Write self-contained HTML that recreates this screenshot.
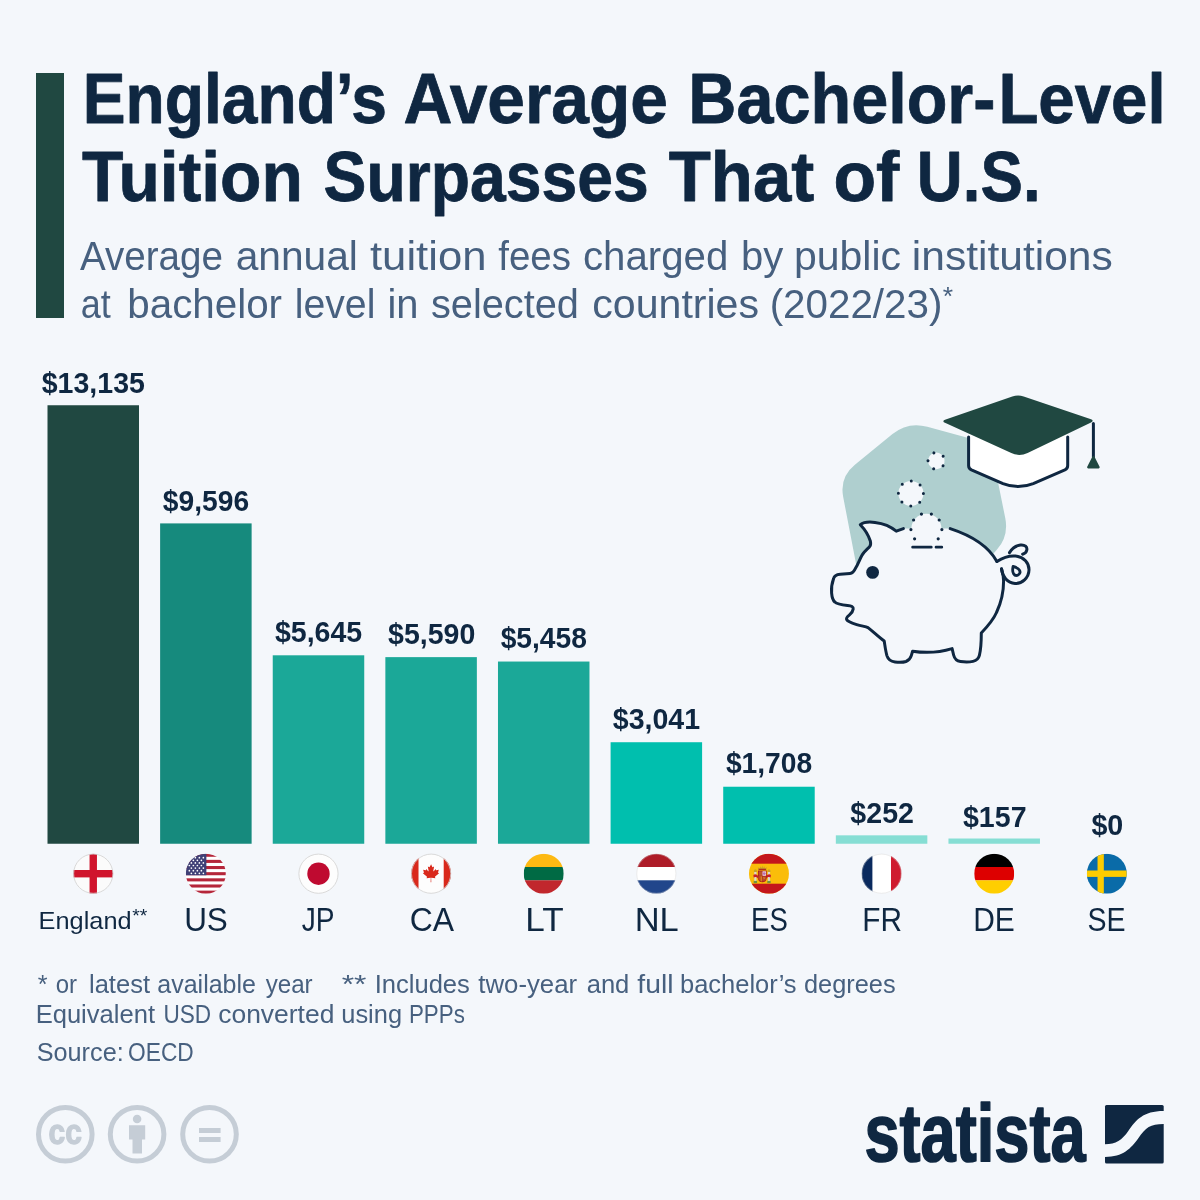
<!DOCTYPE html>
<html lang="en">
<head>
<meta charset="utf-8">
<title>England’s Average Bachelor-Level Tuition Surpasses That of U.S.</title>
<style>
html,body{margin:0;padding:0;background:#f4f7fb;}
body{width:1200px;height:1200px;overflow:hidden;font-family:"Liberation Sans", sans-serif;}
svg{display:block;}
svg text{font-family:"Liberation Sans", sans-serif;}
</style>
</head>
<body>
<svg width="1200" height="1200" viewBox="0 0 1200 1200">
<rect width="1200" height="1200" fill="#f4f7fb"/>
<defs>
<clipPath id="fc"><circle cx="20" cy="20" r="20"/></clipPath>
<g id="flag0"><g clip-path="url(#fc)"><rect width="40" height="40" fill="#fbfbfb"/><rect x="16.3" width="7.4" height="40" fill="#d0142c"/><rect y="16.3" width="40" height="7.4" fill="#d0142c"/></g><circle cx="20" cy="20" r="19.6" fill="none" stroke="#cfcfcf" stroke-width="0.8"/></g>
<g id="flag1"><g clip-path="url(#fc)"><rect width="40" height="40" fill="#ffffff"/>
<g fill="#b5263a"><rect y="0" width="40" height="3.08"/><rect y="6.15" width="40" height="3.08"/><rect y="12.31" width="40" height="3.08"/><rect y="18.46" width="40" height="3.08"/><rect y="24.62" width="40" height="3.08"/><rect y="30.77" width="40" height="3.08"/><rect y="36.92" width="40" height="3.08"/></g>
<rect width="20.5" height="21.54" fill="#3f4076"/>
<g fill="#ffffff"><circle cx="3.5" cy="6.6" r="0.85"/><circle cx="7.5" cy="6.6" r="0.85"/><circle cx="11.5" cy="6.6" r="0.85"/><circle cx="15.5" cy="6.6" r="0.85"/><circle cx="5.5" cy="9.2" r="0.85"/><circle cx="9.5" cy="9.2" r="0.85"/><circle cx="13.5" cy="9.2" r="0.85"/><circle cx="17.5" cy="9.2" r="0.85"/><circle cx="3.5" cy="11.8" r="0.85"/><circle cx="7.5" cy="11.8" r="0.85"/><circle cx="11.5" cy="11.8" r="0.85"/><circle cx="15.5" cy="11.8" r="0.85"/><circle cx="5.5" cy="14.4" r="0.85"/><circle cx="9.5" cy="14.4" r="0.85"/><circle cx="13.5" cy="14.4" r="0.85"/><circle cx="17.5" cy="14.4" r="0.85"/><circle cx="3.5" cy="17.0" r="0.85"/><circle cx="7.5" cy="17.0" r="0.85"/><circle cx="11.5" cy="17.0" r="0.85"/><circle cx="15.5" cy="17.0" r="0.85"/><circle cx="5.5" cy="19.6" r="0.85"/><circle cx="9.5" cy="19.6" r="0.85"/><circle cx="13.5" cy="19.6" r="0.85"/><circle cx="17.5" cy="19.6" r="0.85"/><circle cx="9.5" cy="4.0" r="0.85"/><circle cx="13.5" cy="4.0" r="0.85"/><circle cx="17.5" cy="4.0" r="0.85"/></g>
</g></g>
<g id="flag2"><g clip-path="url(#fc)"><rect width="40" height="40" fill="#fdfdfd"/><circle cx="20" cy="20" r="11.2" fill="#bf0a30"/></g><circle cx="20" cy="20" r="19.6" fill="none" stroke="#cfcfcf" stroke-width="0.8"/></g>
<g id="flag3"><g clip-path="url(#fc)"><rect width="40" height="40" fill="#fdfdfd"/><rect width="7.4" height="40" fill="#d9291c"/><rect x="32.6" width="7.4" height="40" fill="#d9291c"/>
<path fill="#d9291c" transform="translate(20 20) scale(0.86) translate(-20 -22.3)" d="M20 11.2l-1.7 3.2c-.2.35-.55.3-.9.12l-1.2-.63.9 4.9c.2.9-.42.9-.73.5l-2.1-2.4-.35 1.2c-.04.16-.2.33-.46.3l-2.7-.58.7 2.6c.15.57.27.8-.15 .96l-.96.45 4.6 3.8c.18.14.28.4.2.63l-.4 1.33 4.5-.52c.14 0 .36.12.36.28l-.2 4.76h.8l-.13-4.75c0-.16.2-.3.35-.3l4.5.53-.4-1.33c-.07-.23.02-.5.2-.63l4.6-3.8-.96-.45c-.42-.15-.3-.4-.15-.96l.7-2.6-2.7.58c-.26.04-.43-.13-.47-.3l-.35-1.2-2.1 2.4c-.3.4-.92.4-.73-.5l.9-4.9-1.2.63c-.35.2-.7.23-.9-.12z"/>
</g><circle cx="20" cy="20" r="19.6" fill="none" stroke="#cfcfcf" stroke-width="0.8"/></g>
<g id="flag4"><g clip-path="url(#fc)"><rect width="40" height="13.4" fill="#fdb913"/><rect y="13.3" width="40" height="13.4" fill="#006a44"/><rect y="26.6" width="40" height="13.4" fill="#c1272d"/></g></g>
<g id="flag5"><g clip-path="url(#fc)"><rect width="40" height="13.4" fill="#ae1c28"/><rect y="13.3" width="40" height="13.4" fill="#ffffff"/><rect y="26.6" width="40" height="13.4" fill="#21468b"/></g><circle cx="20" cy="20" r="19.6" fill="none" stroke="#cfcfcf" stroke-opacity="0.5" stroke-width="0.8"/></g>
<g id="flag6"><g clip-path="url(#fc)"><rect width="40" height="40" fill="#fabd0a"/><rect width="40" height="10" fill="#c4161c"/><rect y="30" width="40" height="10" fill="#c4161c"/>
<g>
<rect x="5.300" y="18" width="2.200" height="9.600" fill="#dcd8cc"/><rect x="18.900" y="18" width="2.200" height="9.600" fill="#dcd8cc"/>
<path d="M4.800 18.200L5.100 16.400L6.400 15.600L7.700 16.400L8 18.200Z" fill="#c9a227"/><path d="M18.400 18.200L18.700 16.400L20 15.600L21.300 16.400L21.600 18.200Z" fill="#c9a227"/>
<rect x="4.700" y="27.200" width="3.400" height="2.200" fill="#6f9440"/><rect x="18.300" y="27.200" width="3.400" height="2.200" fill="#6f9440"/>
<path d="M4.400 21.300C6 19.900 8.200 20.700 9.300 22.600L8.800 24.800C7.700 23.300 6.200 22.900 4.700 23.900Z" fill="#c8202a"/><path d="M22 21.300C20.400 19.900 18.200 20.700 17.100 22.600L17.600 24.800C18.700 23.300 20.200 22.900 21.700 23.900Z" fill="#c8202a"/>
<path d="M9 16.900h8.700v7.300c0 2.700-1.900 4.300-4.350 4.300s-4.350-1.600-4.350-4.300z" fill="#ad1519"/>
<rect x="9.700" y="17.600" width="3.500" height="4.500" fill="#b9552b"/><rect x="13.500" y="17.600" width="3.500" height="4.500" fill="#eadfe8"/><circle cx="15.250" cy="19.900" r="1.450" fill="#bf6fb0"/>
<path d="M9.700 22.500h3.500v5.200c-2-.1-3.500-1.400-3.500-3.500z" fill="#dd9a22"/><path d="M10.500 22.500v4.200M11.800 22.500v5" stroke="#ad1519" stroke-width=".6" fill="none"/>
<path d="M13.500 22.500h3.500v1.700c0 2.100-1.500 3.400-3.500 3.500z" fill="#b8472b"/><path d="M14.200 23.300l2 2.400M16.200 23.300l-2 2.400" stroke="#d9a62a" stroke-width=".5" fill="none"/>
<path d="M9.300 16.600L8.900 13.300L10.500 14.700L11.500 12.500L12.500 14.500L13.350 11.900L14.200 14.500L15.200 12.500L16.200 14.700L17.800 13.300L17.400 16.600Z" fill="#c9a227"/><rect x="9.700" y="15.100" width="7.300" height="1" fill="#ad1519"/>
</g>
</g></g>
<g id="flag7"><g clip-path="url(#fc)"><rect width="40" height="40" fill="#ffffff"/><rect width="10.8" height="40" fill="#0a2a5e"/><rect x="29.4" width="10.6" height="40" fill="#cf1b2f"/></g><circle cx="20" cy="20" r="19.6" fill="none" stroke="#cfcfcf" stroke-opacity="0.5" stroke-width="0.8"/></g>
<g id="flag8"><g clip-path="url(#fc)"><rect width="40" height="13.4" fill="#000000"/><rect y="13.3" width="40" height="13.4" fill="#dd0000"/><rect y="26.6" width="40" height="13.4" fill="#ffce00"/></g></g>
<g id="flag9"><g clip-path="url(#fc)"><rect width="40" height="40" fill="#0a6ba8"/><rect x="10.700" width="6.300" height="40" fill="#fecc00"/><rect y="16.800" width="40" height="6.400" fill="#fecc00"/></g></g>

</defs>
<path d="M892.5 434.1Q908.0 421.5 927.3 426.8L973.0 439.3Q990.4 444.0 993.9 461.7L1005.3 518.3Q1008.8 536.0 997.0 549.6L959.6 592.5Q953.0 600.0 943.0 600.0L873.0 600.0Q863.0 600.0 861.1 590.2L843.2 497.0Q839.4 477.4 854.9 464.8Z" fill="#afcfcf"/>
<circle cx="936.3" cy="460.9" r="8.3" fill="#f4f7fb" stroke="#0f2741" stroke-width="3" stroke-linecap="round" stroke-dasharray="0 10.430" transform="rotate(36 936.3 460.9)"/>
<circle cx="910.9" cy="493.4" r="12.5" fill="#f4f7fb" stroke="#0f2741" stroke-width="3" stroke-linecap="round" stroke-dasharray="0 9.817"/>
<path d="M903.4 528.6 L896.3 531.2 C892 527.5 884 523.5 875 522.4 C869 521.6 863 522.5 860.3 524.7 C863 527.5 868.5 535 870.4 541.2 C871 544 870.6 545.6 869.5 546.8 C866 550 863.5 552.5 862 555.2 C859.5 559.5 858 564.5 855.7 567.8 C854 571.5 852.5 573.2 850 573.4 L840.2 574.2 C836 574.6 834.2 576 833.6 578.5 C832 583 831.2 589 831.6 593 C832 597.5 833 600.5 834.8 602 C837 604.2 840 604.6 847.5 605.4 C851.5 605.8 853.6 606.6 853.2 609 C852.9 611.5 851.5 613.2 849.5 614.8 C847 616.8 846 618.2 846.7 619.6 C847.6 621.6 851 622.8 856.7 624.6 C862 626.2 865.5 626.4 868 627.6 C873 631.5 878 636.5 884.2 641 C885 646 885.6 651 886.9 655.6 C888.2 659.8 890.5 661.4 895 662 C899 662.5 903.5 662.3 906 661.5 C909 660.4 910.4 658.5 911.3 655.6 L912.6 651.2 C925 653.2 940 652.3 952.1 648.6 L953.6 655 C954.6 659 956.6 661 960.5 661.6 C964.5 662.2 969.5 662.2 973 661.4 C976.6 660.5 978.6 658.6 979.4 655.4 C980.8 649.5 981.3 641 981.3 633 C987 627 993 620.5 996.5 612.5 C1001 603 1003.6 592 1003.6 581 C1003.6 577 1002.6 572.5 1001.5 569  L996.9 561.4 C990 549 976 537 950.2 528.6 Z" fill="#f4f7fb" stroke="none"/>
<path d="M903.4 528.6 L896.3 531.2 C892 527.5 884 523.5 875 522.4 C869 521.6 863 522.5 860.3 524.7 C863 527.5 868.5 535 870.4 541.2 C871 544 870.6 545.6 869.5 546.8 C866 550 863.5 552.5 862 555.2 C859.5 559.5 858 564.5 855.7 567.8 C854 571.5 852.5 573.2 850 573.4 L840.2 574.2 C836 574.6 834.2 576 833.6 578.5 C832 583 831.2 589 831.6 593 C832 597.5 833 600.5 834.8 602 C837 604.2 840 604.6 847.5 605.4 C851.5 605.8 853.6 606.6 853.2 609 C852.9 611.5 851.5 613.2 849.5 614.8 C847 616.8 846 618.2 846.7 619.6 C847.6 621.6 851 622.8 856.7 624.6 C862 626.2 865.5 626.4 868 627.6 C873 631.5 878 636.5 884.2 641 C885 646 885.6 651 886.9 655.6 C888.2 659.8 890.5 661.4 895 662 C899 662.5 903.5 662.3 906 661.5 C909 660.4 910.4 658.5 911.3 655.6 L912.6 651.2 C925 653.2 940 652.3 952.1 648.6 L953.6 655 C954.6 659 956.6 661 960.5 661.6 C964.5 662.2 969.5 662.2 973 661.4 C976.6 660.5 978.6 658.6 979.4 655.4 C980.8 649.5 981.3 641 981.3 633 C987 627 993 620.5 996.5 612.5 C1001 603 1003.6 592 1003.6 581 C1003.6 577 1002.6 572.5 1001.5 569 " fill="none" stroke="#0f2741" stroke-width="3" stroke-linecap="round" stroke-linejoin="round"/>
<path d="M950.2 528.6 C976 537 990 549 996.9 561.4" fill="none" stroke="#0f2741" stroke-width="3" stroke-linecap="round"/>
<path d="M996.9 561.4 C1003 557.5 1010 555.5 1015.5 556 C1024 557 1029.2 563 1029 570 C1028.8 578 1022 583.6 1015 583.4 C1007.5 583.2 1002.5 577 1001.5 568.8" fill="none" stroke="#0f2741" stroke-width="3" stroke-linecap="round"/>
<path d="M1009.5 552.6 C1012 548.5 1016 545.6 1020.5 545 C1025 544.5 1027.4 547 1026.8 550 C1026.4 552 1024.8 553.6 1022.6 554.2" fill="none" stroke="#0f2741" stroke-width="3" stroke-linecap="round"/>
<path d="M0 -5C2.300 -2.600 3.400 -0.500 3.400 1.400C3.400 3.500 1.900 4.900 0 4.900C-1.900 4.900 -3.400 3.500 -3.400 1.400C-3.400 -0.500 -2.300 -2.600 0 -5Z" transform="translate(1015.7 570.7) rotate(-32)" fill="#f4f7fb" stroke="#0f2741" stroke-width="2.8" stroke-linejoin="round"/>
<circle cx="872.6" cy="572.4" r="6.4" fill="#0f2741"/>
<circle cx="926.4" cy="528.7" r="15" fill="#f4f7fb"/>
<path d="M914.6 538.8 A15.5 15.5 0 1 1 938.2 538.8" fill="none" stroke="#0f2741" stroke-width="3.2" stroke-linecap="round" pathLength="70" stroke-dasharray="0 10"/>
<path d="M912.6 547.2H931.3M936 547.2H941.8" fill="none" stroke="#0f2741" stroke-width="2.7" stroke-linecap="round"/>
<path d="M968.6 430V465.500Q968.600 468.600 971.400 469.900L1003 483.600Q1018.100 489.600 1033.200 483.600L1064.900 469.900Q1067.700 468.600 1067.700 465.500V430Z" fill="#ffffff"/>
<path d="M968.6 437V465.500Q968.600 468.600 971.400 469.900L1003 483.600Q1018.100 489.600 1033.200 483.600L1064.900 469.900Q1067.700 468.600 1067.700 465.500V437" fill="none" stroke="#0f2741" stroke-width="3" stroke-linecap="round" stroke-linejoin="round"/>
<path d="M945.5 423.1Q941.0 421.0 945.7 419.4L1012.3 396.5Q1018.0 394.6 1023.7 396.5L1090.3 418.9Q1095.0 420.5 1090.5 422.7L1027.6 452.9Q1019.5 456.8 1011.3 453.1Z" fill="#204841"/>
<path d="M1093.4 423.5V457" stroke="#0f2741" stroke-width="3" stroke-linecap="round" fill="none"/>
<path d="M1093.4 457L1098.600 467.300H1088.200Z" fill="#204841" stroke="#204841" stroke-width="2.2" stroke-linejoin="round"/>
<rect x="36" y="73" width="28" height="245" fill="#204841"/>
<text y="123.3" font-size="71.2" font-weight="700" fill="#0f2741" stroke="#0f2741" stroke-width="0.8" stroke-linejoin="round"><tspan x="82.80" textLength="304.14" lengthAdjust="spacingAndGlyphs">England’s</tspan> <tspan x="403.45" textLength="264.36" lengthAdjust="spacingAndGlyphs">Average</tspan> <tspan x="688.36" textLength="307.07" lengthAdjust="spacingAndGlyphs">Bachelor-</tspan><tspan x="998.42" textLength="167.27" lengthAdjust="spacingAndGlyphs">Level</tspan></text>
<text y="201.2" font-size="71.2" font-weight="700" fill="#0f2741" stroke="#0f2741" stroke-width="0.8" stroke-linejoin="round"><tspan x="82.10" textLength="220.82" lengthAdjust="spacingAndGlyphs">Tuition</tspan> <tspan x="323.59" textLength="325.04" lengthAdjust="spacingAndGlyphs">Surpasses</tspan> <tspan x="668.70" textLength="145.58" lengthAdjust="spacingAndGlyphs">That</tspan> <tspan x="833.44" textLength="65.87" lengthAdjust="spacingAndGlyphs">of</tspan> <tspan x="916.82" textLength="123.75" lengthAdjust="spacingAndGlyphs">U.S.</tspan></text>
<text y="269.8" font-size="40" font-weight="400" fill="#47607f"><tspan x="80.00" textLength="142.90" lengthAdjust="spacingAndGlyphs">Average</tspan> <tspan x="235.68" textLength="122.24" lengthAdjust="spacingAndGlyphs">annual</tspan> <tspan x="370.00" textLength="116.45" lengthAdjust="spacingAndGlyphs">tuition</tspan> <tspan x="498.30" textLength="72.66" lengthAdjust="spacingAndGlyphs">fees</tspan> <tspan x="583.00" textLength="145.26" lengthAdjust="spacingAndGlyphs">charged</tspan> <tspan x="741.00" textLength="42.30" lengthAdjust="spacingAndGlyphs">by</tspan> <tspan x="793.95" textLength="107.07" lengthAdjust="spacingAndGlyphs">public</tspan> <tspan x="911.87" textLength="200.89" lengthAdjust="spacingAndGlyphs">institutions</tspan></text>
<text y="317.6" font-size="40" font-weight="400" fill="#47607f"><tspan x="80.80" textLength="30.00" lengthAdjust="spacingAndGlyphs">at</tspan> <tspan x="127.28" textLength="154.74" lengthAdjust="spacingAndGlyphs">bachelor</tspan> <tspan x="294.74" textLength="80.61" lengthAdjust="spacingAndGlyphs">level</tspan> <tspan x="387.51" textLength="31.03" lengthAdjust="spacingAndGlyphs">in</tspan> <tspan x="431.01" textLength="147.92" lengthAdjust="spacingAndGlyphs">selected</tspan> <tspan x="592.27" textLength="166.75" lengthAdjust="spacingAndGlyphs">countries</tspan> <tspan x="769.68" textLength="172.66" lengthAdjust="spacingAndGlyphs">(2022/23)</tspan></text>
<text y="304.6" font-size="25" font-weight="400" fill="#47607f"><tspan x="942.70" textLength="10.31" lengthAdjust="spacingAndGlyphs">*</tspan></text>
<text y="993.4" font-size="25.2" font-weight="400" fill="#47607f"><tspan x="37.70" textLength="9.80" lengthAdjust="spacingAndGlyphs">*</tspan> <tspan x="55.75" textLength="21.32" lengthAdjust="spacingAndGlyphs">or</tspan> <tspan x="88.99" textLength="61.01" lengthAdjust="spacingAndGlyphs">latest</tspan> <tspan x="157.31" textLength="98.69" lengthAdjust="spacingAndGlyphs">available</tspan> <tspan x="265.70" textLength="46.97" lengthAdjust="spacingAndGlyphs">year</tspan> <tspan x="341.70" textLength="24.75" lengthAdjust="spacingAndGlyphs">**</tspan> <tspan x="374.67" textLength="95.23" lengthAdjust="spacingAndGlyphs">Includes</tspan> <tspan x="478.30" textLength="98.80" lengthAdjust="spacingAndGlyphs">two-year</tspan> <tspan x="586.69" textLength="42.64" lengthAdjust="spacingAndGlyphs">and</tspan> <tspan x="637.30" textLength="36.19" lengthAdjust="spacingAndGlyphs">full</tspan> <tspan x="679.99" textLength="116.61" lengthAdjust="spacingAndGlyphs">bachelor’s</tspan> <tspan x="803.99" textLength="91.60" lengthAdjust="spacingAndGlyphs">degrees</tspan></text>
<text y="1023.4" font-size="25.2" font-weight="400" fill="#47607f"><tspan x="35.67" textLength="119.33" lengthAdjust="spacingAndGlyphs">Equivalent</tspan> <tspan x="163.40" textLength="47.66" lengthAdjust="spacingAndGlyphs">USD</tspan> <tspan x="218.25" textLength="116.11" lengthAdjust="spacingAndGlyphs">converted</tspan> <tspan x="341.29" textLength="60.73" lengthAdjust="spacingAndGlyphs">using</tspan> <tspan x="408.93" textLength="55.90" lengthAdjust="spacingAndGlyphs">PPPs</tspan></text>
<text y="1061" font-size="25.2" font-weight="400" fill="#47607f"><tspan x="36.70" textLength="87.00" lengthAdjust="spacingAndGlyphs">Source:</tspan> <tspan x="128.10" textLength="65.68" lengthAdjust="spacingAndGlyphs">OECD</tspan></text>
<text y="928.9" font-size="24.6" font-weight="400" fill="#0f2741"><tspan x="38.64" textLength="92.96" lengthAdjust="spacingAndGlyphs">England</tspan></text>
<text y="921.6" font-size="17.5" font-weight="400" fill="#0f2741"><tspan x="132.30" textLength="15.09" lengthAdjust="spacingAndGlyphs">**</tspan></text>
<text y="931" font-size="33.9" font-weight="400" fill="#0f2741"><tspan x="184.14" textLength="43.72" lengthAdjust="spacingAndGlyphs">US</tspan> <tspan x="301.70" textLength="32.31" lengthAdjust="spacingAndGlyphs">JP</tspan> <tspan x="409.80" textLength="42.55" lengthAdjust="spacingAndGlyphs">CA</tspan> <tspan x="525.26" textLength="37.75" lengthAdjust="spacingAndGlyphs">LT</tspan> <tspan x="634.72" textLength="42.81" lengthAdjust="spacingAndGlyphs">NL</tspan> <tspan x="751.08" textLength="36.72" lengthAdjust="spacingAndGlyphs">ES</tspan> <tspan x="862.24" textLength="39.76" lengthAdjust="spacingAndGlyphs">FR</tspan> <tspan x="973.23" textLength="41.60" lengthAdjust="spacingAndGlyphs">DE</tspan> <tspan x="1087.46" textLength="38.05" lengthAdjust="spacingAndGlyphs">SE</tspan></text>
<text y="392.75" font-size="29" font-weight="700" fill="#0f2741"><tspan x="41.76" textLength="103.11" lengthAdjust="spacingAndGlyphs">$13,135</tspan></text>
<text y="510.7" font-size="29" font-weight="700" fill="#0f2741"><tspan x="162.79" textLength="86.29" lengthAdjust="spacingAndGlyphs">$9,596</tspan></text>
<text y="641.8" font-size="29" font-weight="700" fill="#0f2741"><tspan x="274.91" textLength="87.29" lengthAdjust="spacingAndGlyphs">$5,645</tspan></text>
<text y="643.63" font-size="29" font-weight="700" fill="#0f2741"><tspan x="388.03" textLength="87.27" lengthAdjust="spacingAndGlyphs">$5,590</tspan></text>
<text y="647.94" font-size="29" font-weight="700" fill="#0f2741"><tspan x="500.65" textLength="86.29" lengthAdjust="spacingAndGlyphs">$5,458</tspan></text>
<text y="728.63" font-size="29" font-weight="700" fill="#0f2741"><tspan x="612.77" textLength="87.29" lengthAdjust="spacingAndGlyphs">$3,041</tspan></text>
<text y="772.93" font-size="29" font-weight="700" fill="#0f2741"><tspan x="725.89" textLength="86.29" lengthAdjust="spacingAndGlyphs">$1,708</tspan></text>
<text y="823.04" font-size="29" font-weight="700" fill="#0f2741"><tspan x="850.37" textLength="63.56" lengthAdjust="spacingAndGlyphs">$252</tspan></text>
<text y="826.71" font-size="29" font-weight="700" fill="#0f2741"><tspan x="962.99" textLength="63.56" lengthAdjust="spacingAndGlyphs">$157</tspan></text>
<text y="834.95" font-size="29" font-weight="700" fill="#0f2741"><tspan x="1091.42" textLength="31.93" lengthAdjust="spacingAndGlyphs">$0</tspan></text>
<text y="1161.1" font-size="81.5" font-weight="700" fill="#0f2741" stroke="#0f2741" stroke-width="1.7" stroke-linejoin="round"><tspan x="864.40" textLength="221.23" lengthAdjust="spacingAndGlyphs">statista</tspan></text>
<rect x="47.50" y="405.25" width="91.5" height="438.50" fill="#204841"/>
<use href="#flag0" x="73.25" y="853.7"/>
<rect x="160.12" y="523.40" width="91.5" height="320.35" fill="#168a7d"/>
<use href="#flag1" x="185.87" y="853.7"/>
<rect x="272.74" y="655.30" width="91.5" height="188.45" fill="#1ba898"/>
<use href="#flag2" x="298.49" y="853.7"/>
<rect x="385.36" y="657.13" width="91.5" height="186.62" fill="#1ba898"/>
<use href="#flag3" x="411.11" y="853.7"/>
<rect x="497.98" y="661.54" width="91.5" height="182.21" fill="#1ba898"/>
<use href="#flag4" x="523.73" y="853.7"/>
<rect x="610.60" y="742.23" width="91.5" height="101.52" fill="#00bfae"/>
<use href="#flag5" x="636.35" y="853.7"/>
<rect x="723.22" y="786.73" width="91.5" height="57.02" fill="#00bfae"/>
<use href="#flag6" x="748.97" y="853.7"/>
<rect x="835.84" y="835.34" width="91.5" height="8.41" fill="#86ded4"/>
<use href="#flag7" x="861.59" y="853.7"/>
<rect x="948.46" y="838.51" width="91.5" height="5.24" fill="#86ded4"/>
<use href="#flag8" x="974.21" y="853.7"/>
<use href="#flag9" x="1086.83" y="853.7"/>
<circle cx="65.3" cy="1134.3" r="26.8" fill="none" stroke="#c5cdd6" stroke-width="5"/>
<circle cx="137.1" cy="1134.3" r="26.8" fill="none" stroke="#c5cdd6" stroke-width="5"/>
<circle cx="209.5" cy="1134.3" r="26.8" fill="none" stroke="#c5cdd6" stroke-width="5"/>
<text x="65.3" y="1144.2" font-size="35" font-weight="700" fill="#c5cdd6" text-anchor="middle" textLength="33.4" lengthAdjust="spacingAndGlyphs" stroke="#c5cdd6" stroke-width="1.3" stroke-linejoin="round">cc</text>
<circle cx="137.1" cy="1119" r="4.3" fill="#c5cdd6"/><path d="M129 1125.2H145.200V1139.600H142V1153.400H132.500V1139.600H129Z" fill="#c5cdd6"/>
<rect x="199" y="1128" width="21.6" height="5" fill="#c5cdd6"/><rect x="199" y="1137" width="21.6" height="5" fill="#c5cdd6"/>
<rect x="1105" y="1104.9" width="58.7" height="58.6" rx="1.5" fill="#0f2741"/>
<path d="M1104.5 1144.3H1105C1116 1144.300 1122 1140 1128.300 1131C1136 1120 1143 1111 1163.700 1111H1164.200V1124H1163.700C1150 1124 1146 1127.500 1138.300 1138.300C1131 1148.500 1123 1157 1105 1157H1104.500Z" fill="#f4f7fb"/>
</svg>
</body>
</html>
